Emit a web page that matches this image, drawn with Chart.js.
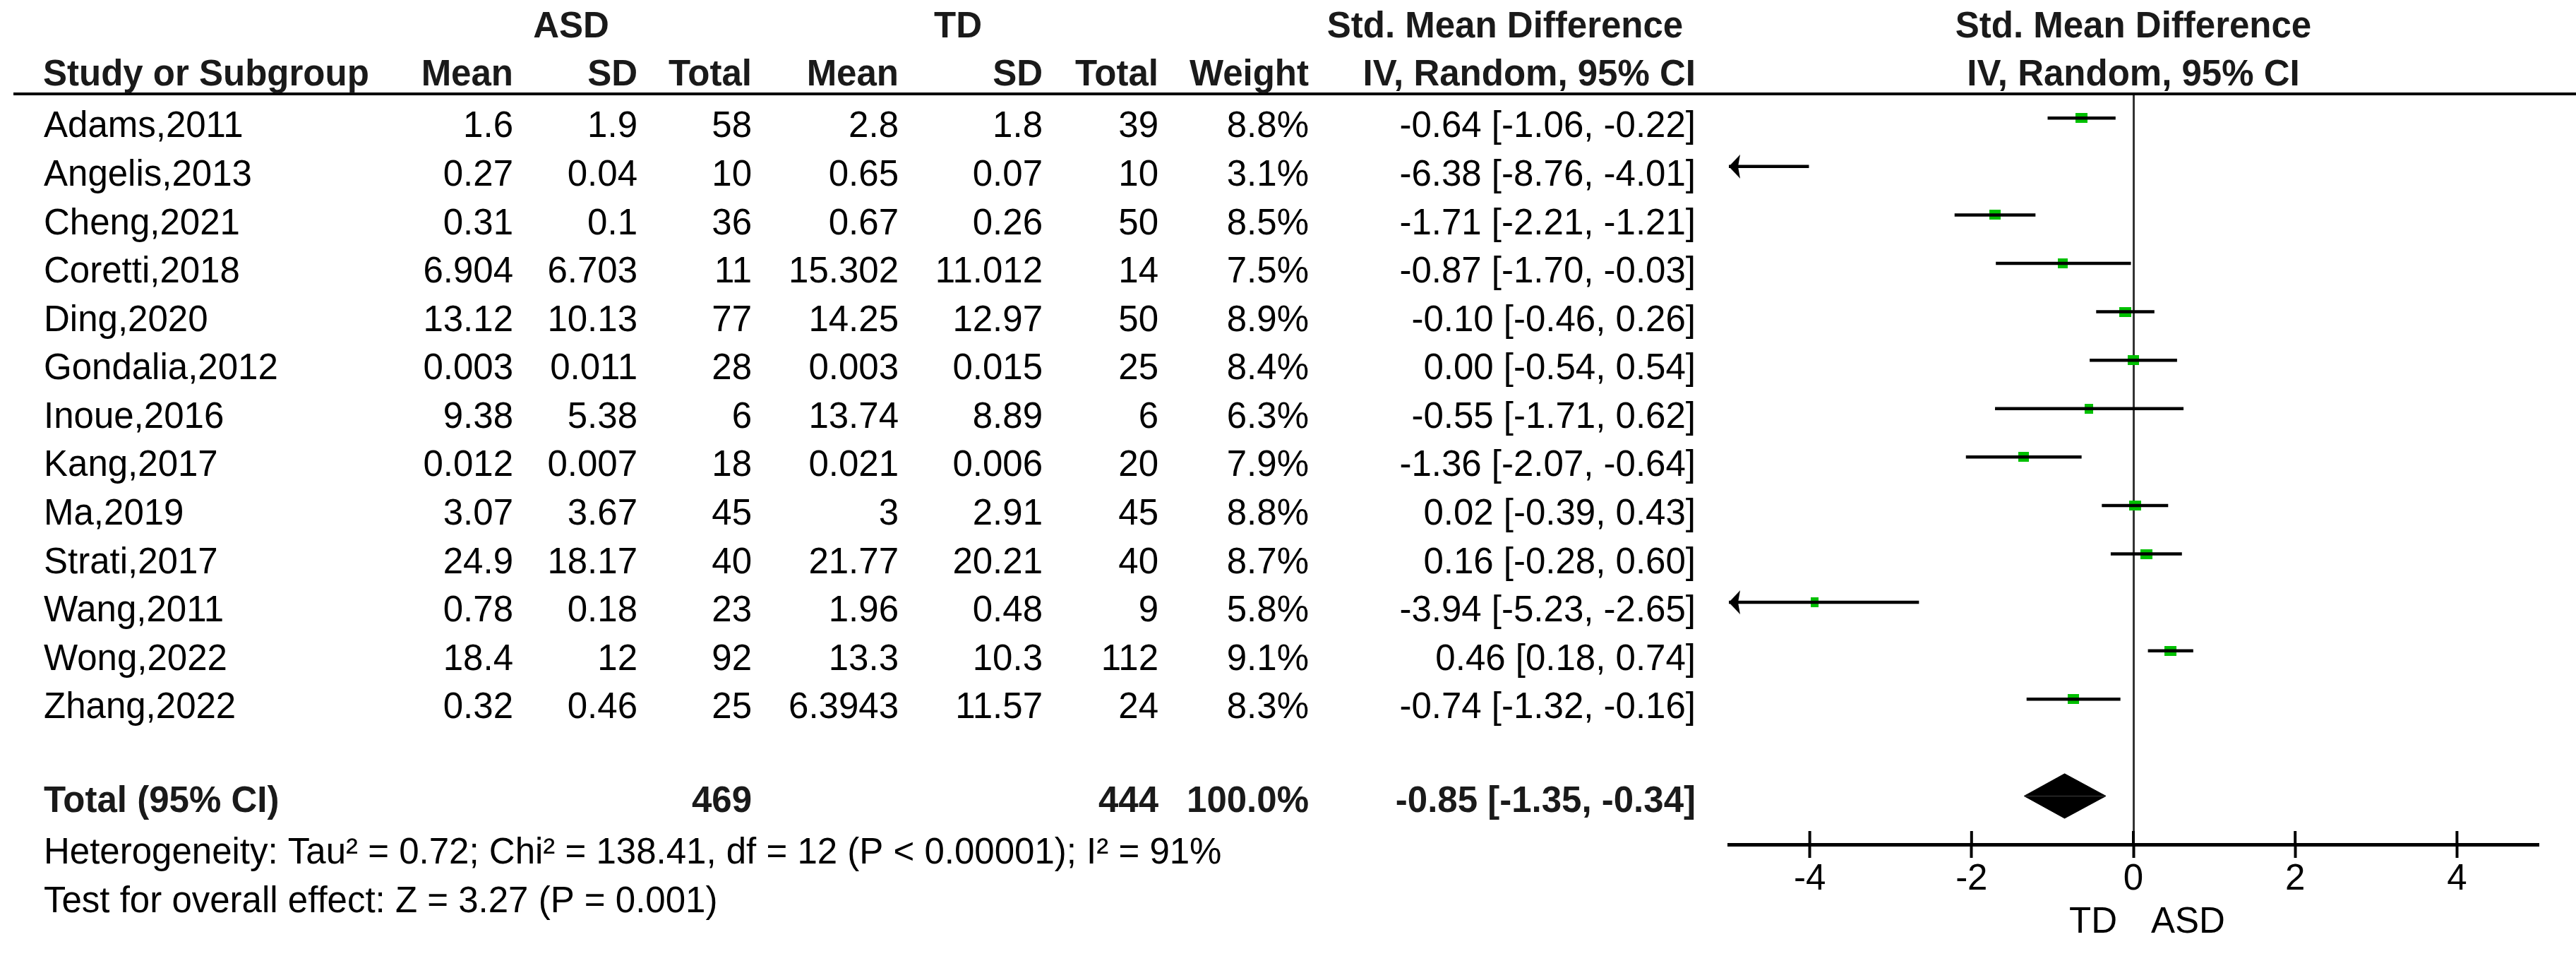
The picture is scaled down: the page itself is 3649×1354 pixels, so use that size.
<!DOCTYPE html>
<html>
<head>
<meta charset="utf-8">
<title>Forest plot - ASD vs TD</title>
<script src="https://cdn.jsdelivr.net/npm/chart.js@4.4.1/dist/chart.umd.min.js"></script>
<style>
  html, body { margin: 0; padding: 0; background: #fff; overflow: hidden; }
  canvas { display: block; }
</style>
</head>
<body>
<canvas id="forest" width="3649" height="1354"></canvas>
<script>
// Study data
const studies = ['Adams,2011', 'Angelis,2013', 'Cheng,2021', 'Coretti,2018', 'Ding,2020', 'Gondalia,2012',
  'Inoue,2016', 'Kang,2017', 'Ma,2019', 'Strati,2017', 'Wang,2011', 'Wong,2022', 'Zhang,2022'];
const asdMean = [1.6, 0.27, 0.31, 6.904, 13.12, 0.003, 9.38, 0.012, 3.07, 24.9, 0.78, 18.4, 0.32];
const asdSd = [1.9, 0.04, 0.1, 6.703, 10.13, 0.011, 5.38, 0.007, 3.67, 18.17, 0.18, 12, 0.46];
const asdTotal = [58, 10, 36, 11, 77, 28, 6, 18, 45, 40, 23, 92, 25];
const tdMean = [2.8, 0.65, 0.67, 15.302, 14.25, 0.003, 13.74, 0.021, 3, 21.77, 1.96, 13.3, 6.3943];
const tdSd = [1.8, 0.07, 0.26, 11.012, 12.97, 0.015, 8.89, 0.006, 2.91, 20.21, 0.48, 10.3, 11.57];
const tdTotal = [39, 10, 50, 14, 50, 25, 6, 20, 45, 40, 9, 112, 24];
const weights = [8.8, 3.1, 8.5, 7.5, 8.9, 8.4, 6.3, 7.9, 8.8, 8.7, 5.8, 9.1, 8.3];
const smd = [-0.64, -6.38, -1.71, -0.87, -0.10, 0.00, -0.55, -1.36, 0.02, 0.16, -3.94, 0.46, -0.74];
const ciLow = [-1.06, -8.76, -2.21, -1.70, -0.46, -0.54, -1.71, -2.07, -0.39, -0.28, -5.23, 0.18, -1.32];
const ciHigh = [-0.22, -4.01, -1.21, -0.03, 0.26, 0.54, 0.62, -0.64, 0.43, 0.60, -2.65, 0.74, -0.16];

// Pooled result
const totalAsd = 469;
const totalTd = 444;
const totalWeight = 100.0;
const pooled = [-0.85, -1.35, -0.34]; // estimate, low, high
const heterogeneity = 'Heterogeneity: Tau\u00b2 = 0.72; Chi\u00b2 = 138.41, df = 12 (P < 0.00001); I\u00b2 = 91%';
const overallEffect = 'Test for overall effect: Z = 3.27 (P = 0.001)';

// Axis
const xTicks = [-4, -2, 0, 2, 4];
const xMin = -5;
const xMax = 5;
const favourLeft = 'TD';
const favourRight = 'ASD';

// Row positions on the y scale (studies 1..13, blank row, total at 15)
const TOTAL_ROW = 15;

// Look
const FONT = "'Liberation Sans', Arial, sans-serif";
const FONT_SIZE = 51;
const GREEN = '#00C000';
const DIAMOND_HALF = 0.46; // in row units
const BOX_HEIGHT = 14;

Chart.defaults.font.family = FONT;
Chart.defaults.font.size = FONT_SIZE;
Chart.defaults.color = '#000';

const fmt2 = v => v.toFixed(2);
const ciText = (e, lo, hi) => `${fmt2(e)} [${fmt2(lo)}, ${fmt2(hi)}]`;

// Table columns (right edge or left edge in px)
const columns = [
  { x: 62, align: 'left', text: i => studies[i] },
  { x: 727, align: 'right', text: i => String(asdMean[i]) },
  { x: 903, align: 'right', text: i => String(asdSd[i]) },
  { x: 1065, align: 'right', text: i => String(asdTotal[i]) },
  { x: 1273, align: 'right', text: i => String(tdMean[i]) },
  { x: 1477, align: 'right', text: i => String(tdSd[i]) },
  { x: 1641, align: 'right', text: i => String(tdTotal[i]) },
  { x: 1854, align: 'right', text: i => weights[i].toFixed(1) + '%' },
  { x: 2402, align: 'right', text: i => ciText(smd[i], ciLow[i], ciHigh[i]) }
];

const headers = [
  ['ASD', 809, 39, 'center'],
  ['TD', 1357, 39, 'center'],
  ['Std. Mean Difference', 2132, 39, 'center'],
  ['Study or Subgroup', 61, 107, 'left'],
  ['Mean', 727, 107, 'right'],
  ['SD', 903, 107, 'right'],
  ['Total', 1065, 107, 'right'],
  ['Mean', 1273, 107, 'right'],
  ['SD', 1477, 107, 'right'],
  ['Total', 1641, 107, 'right'],
  ['Weight', 1854, 107, 'right'],
  ['IV, Random, 95% CI', 2402, 107, 'right']
];

// Left-pointing arrowhead used where a CI runs off the scale
function makeArrowhead() {
  const c = document.createElement('canvas');
  c.width = 40;
  c.height = 36;
  const g = c.getContext('2d');
  g.fillStyle = '#000';
  g.beginPath();
  g.moveTo(20, 18);
  g.lineTo(36, 1);
  g.lineTo(33, 18);
  g.lineTo(36, 35);
  g.closePath();
  g.fill();
  return c;
}

// Green weight box, width follows the study weight
function makeBox(w) {
  const c = document.createElement('canvas');
  c.width = w;
  c.height = BOX_HEIGHT;
  const g = c.getContext('2d');
  g.fillStyle = GREEN;
  g.fillRect(0, 0, w, BOX_HEIGHT);
  return c;
}

// Draws the table text, the header rule and the upper half of the ticks
const tablePlugin = {
  id: 'forestTable',
  afterDraw(chart) {
    const ctx = chart.ctx;
    const xs = chart.scales.x;
    const ys = chart.scales.y;
    const area = chart.chartArea;
    const plotMid = (xs.left + xs.right) / 2;

    ctx.save();
    ctx.fillStyle = '#000';
    ctx.textBaseline = 'middle';

    // header underline
    ctx.strokeStyle = '#000';
    ctx.lineWidth = 4;
    ctx.beginPath();
    ctx.moveTo(19, area.top);
    ctx.lineTo(chart.width, area.top);
    ctx.stroke();

    // headers
    ctx.font = `bold ${FONT_SIZE}px ${FONT}`;
    ctx.fillStyle = '#1a1a1a';
    headers.forEach(([t, x, y, a]) => {
      ctx.textAlign = a;
      ctx.fillText(t, x, y);
    });
    ctx.textAlign = 'center';
    ctx.fillText('Std. Mean Difference', plotMid, 39);
    ctx.fillText('IV, Random, 95% CI', plotMid, 107);

    // study rows
    ctx.font = `${FONT_SIZE}px ${FONT}`;
    ctx.fillStyle = '#000';
    studies.forEach((_, i) => {
      const y = ys.getPixelForValue(i + 1) + 13;
      columns.forEach(col => {
        ctx.textAlign = col.align;
        ctx.fillText(col.text(i), col.x, y);
      });
    });

    // total row
    const ty = ys.getPixelForValue(TOTAL_ROW) + 9;
    ctx.font = `bold ${FONT_SIZE}px ${FONT}`;
    ctx.fillStyle = '#1a1a1a';
    ctx.textAlign = 'left';
    ctx.fillText('Total (95% CI)', 62, ty);
    ctx.textAlign = 'right';
    ctx.fillText(String(totalAsd), 1065, ty);
    ctx.fillText(String(totalTd), 1641, ty);
    ctx.fillText(totalWeight.toFixed(1) + '%', 1854, ty);
    ctx.fillText(ciText(pooled[0], pooled[1], pooled[2]), 2402, ty);

    // footer
    ctx.font = `${FONT_SIZE}px ${FONT}`;
    ctx.fillStyle = '#000';
    ctx.textAlign = 'left';
    ctx.fillText(heterogeneity, 62, 1209);
    ctx.fillText(overallEffect, 62, 1278);

    // favours labels under the axis
    const zero = xs.getPixelForValue(0);
    ctx.textAlign = 'right';
    ctx.fillText(favourLeft, zero - 23, 1307);
    ctx.textAlign = 'left';
    ctx.fillText(favourRight, zero + 25, 1307);

    // tick marks also cross above the axis line
    ctx.lineWidth = 4;
    xs.ticks.forEach(t => {
      const px = xs.getPixelForValue(t.value);
      ctx.beginPath();
      ctx.moveTo(px, area.bottom - 19);
      ctx.lineTo(px, area.bottom);
      ctx.stroke();
    });

    ctx.restore();
  }
};

// CI lines, one per study
const ciLines = studies.map((_, i) => ({
  data: [{ x: ciLow[i], y: i + 1 }, { x: ciHigh[i], y: i + 1 }],
  showLine: true,
  borderColor: '#000',
  borderWidth: 4.5,
  pointRadius: 0
}));

const markers = {
  data: smd.map((v, i) => ({ x: v, y: i + 1 })),
  pointStyle: weights.map(w => makeBox(Math.round(1.9 * w))),
  pointRadius: 9,
  borderWidth: 0
};

const arrowhead = makeArrowhead();
const arrows = {
  data: ciLow.map((lo, i) => (lo < xMin ? { x: xMin, y: i + 1 } : null)).filter(Boolean),
  pointStyle: arrowhead,
  pointRadius: 18,
  clip: false
};

const diamondHalf = dir => ({
  data: [
    { x: pooled[1], y: TOTAL_ROW },
    { x: pooled[0], y: TOTAL_ROW + dir * DIAMOND_HALF },
    { x: pooled[2], y: TOTAL_ROW }
  ],
  showLine: true,
  borderColor: '#000',
  borderWidth: 1,
  backgroundColor: '#000',
  fill: { value: TOTAL_ROW },
  pointRadius: 0
});

new Chart(document.getElementById('forest'), {
  type: 'scatter',
  data: {
    datasets: [...ciLines, markers, arrows, diamondHalf(-1), diamondHalf(1)]
  },
  options: {
    responsive: false,
    animation: false,
    devicePixelRatio: 1,
    events: [],
    layout: { padding: { left: 2449, right: 54, top: 133, bottom: 0 } },
    plugins: {
      legend: { display: false },
      tooltip: { enabled: false }
    },
    scales: {
      x: {
        type: 'linear',
        min: xMin,
        max: xMax,
        afterBuildTicks: s => { s.ticks = xTicks.map(v => ({ value: v })); },
        afterFit: s => { s.height = 158; },
        ticks: {
          padding: 0,
          color: '#000',
          callback: v => String(v)
        },
        grid: {
          color: c => (c.tick && c.tick.value === 0 ? '#333' : 'rgba(0,0,0,0)'),
          lineWidth: 3,
          tickColor: '#000',
          tickWidth: 4,
          tickLength: 19
        },
        border: { display: true, color: '#000', width: 5 }
      },
      y: {
        type: 'linear',
        min: 0.5,
        max: 16,
        reverse: true,
        display: false
      }
    }
  },
  plugins: [tablePlugin]
});
</script>
</body>
</html>
